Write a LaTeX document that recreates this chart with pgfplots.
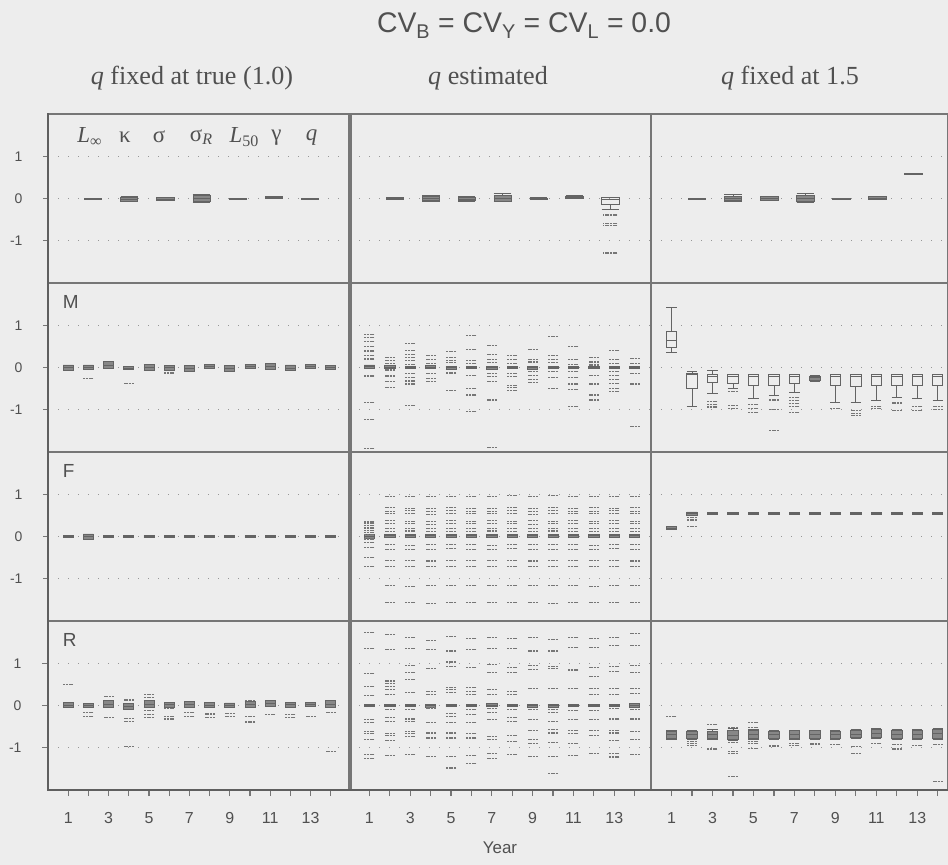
\documentclass[border=0pt]{standalone}
\usepackage{fontspec}
\setmainfont{Liberation Serif}
\newfontfamily\arial{Liberation Sans}
\usepackage{pgfplots}
\pgfplotsset{compat=1.18}
\usepgfplotslibrary{statistics}

\definecolor{paper}{RGB}{237,237,237}
\definecolor{frame}{RGB}{118,118,118}
\definecolor{frameb}{RGB}{95,95,95}
\definecolor{ink}{RGB}{80,80,80}
\definecolor{boxc}{RGB}{100,100,100}
\definecolor{boxfill}{RGB}{135,135,135}
\definecolor{outc}{RGB}{118,118,118}
\definecolor{dotc}{RGB}{150,150,150}

\newcommand\tickfont{\arial\fontsize{16}{18}\selectfont}

\tikzset{plab/.style={font=\arial\fontsize{19}{20}\selectfont, text=ink, anchor=west, inner sep=0pt},
  head/.style={font=\fontsize{26.2}{28}\selectfont, text=ink, anchor=base}}

\pgfplotsset{
  panel/.style={
    scale only axis, height=169bp,
    xmin=0, ymin=-2, ymax=2,
    axis line style={draw=frame, line width=1.2bp},
    ytick={-1,0,1}, yticklabels={},
    xtick=\empty,
    ymajorgrids,
    grid style={draw=dotc, line width=1.3bp, dash pattern=on 1.3bp off 8.7bp},
    ytick style={draw=none},
    tick align=outside,
    boxplot/draw direction=y,
    anchor=south west,
  },
  c1/.style={panel, width=303bp, xmax=15},
  c2/.style={panel, width=302bp, xmax=14.8},
  c3/.style={panel, width=297bp, xmax=14.5},
  leftcol/.style={
    ytick style={draw=frame, line width=1.2bp}, major tick length=5bp,
    ytick pos=left, yticklabels={-1,0,1},
    yticklabel style={font=\arial\fontsize{14}{16}\selectfont, text=ink, xshift=-17bp},
  },
  bottomrow/.style={
    xtick={1,...,14}, xticklabels={1,,3,,5,,7,,9,,11,,13,},
    xtick pos=bottom, xtick style={draw=frame, line width=1.2bp},
    major tick length=6bp,
    xticklabel style={font=\tickfont, text=ink, yshift=-13bp},
  },
  bx/.style={draw=boxc, line width=0.8bp, solid, mark=none,
    boxplot/box extend=0.5, boxplot/whisker extend=0.5},
  wide/.style={boxplot/box extend=0.85, boxplot/whisker extend=0.85},
  dense/.style={fill=boxfill},
  ol/.style={only marks, mark=-, mark size=5bp,
    mark options={draw=outc, line width=1.1bp, dash pattern=on 2bp off 0.7bp}},
}

% one box: [options]{position}{lower whisker}{lower quartile}{median}{upper quartile}{upper whisker}
\newcommand\bx[7][]{\addplot[bx,#1,boxplot prepared={draw position=#2,
  lower whisker=#3, lower quartile=#4, median=#5,
  upper quartile=#6, upper whisker=#7}] coordinates {};}

\begin{document}
\begin{tikzpicture}
\fill[paper] (0,0) rectangle (948bp,865bp);
\useasboundingbox (0,0) rectangle (948bp,865bp);

\node[font=\arial\fontsize{28.5}{30}\selectfont, text=ink, anchor=base] at (524bp,832bp)
  {CV\textsubscript{B} = CV\textsubscript{Y} = CV\textsubscript{L} = 0.0};
\node[head] at (192bp,780bp) {\textit{q} fixed at true (1.0)};
\node[head] at (488bp,780bp) {\textit{q} estimated};
\node[head] at (790bp,780bp) {\textit{q} fixed at 1.5};

%% ---------------- row 1: parameters ----------------
\begin{axis}[c1, leftcol, at={(48bp,582bp)}]
\bx[wide,dense]{2.23}{-0.01}{-0.01}{0}{0.01}{0.01}
\bx[wide,dense]{4.02}{-0.07}{-0.06}{-0.02}{0.03}{0.04}
\bx[wide,dense]{5.81}{-0.05}{-0.04}{-0.01}{0.03}{0.03}
\bx[wide,dense]{7.60}{-0.09}{-0.07}{0}{0.07}{0.10}
\bx[wide,dense]{9.39}{-0.01}{-0.01}{0}{0.01}{0.01}
\bx[wide,dense]{11.18}{0.01}{0.01}{0.03}{0.05}{0.05}
\bx[wide,dense]{12.97}{-0.01}{-0.01}{0}{0.005}{0.005}
\begin{scope}[font=\fontsize{23}{25}\selectfont, text=ink]
\node at (axis cs:2.07,1.45) {\textit{L}\textsubscript{∞}};
\node at (axis cs:3.81,1.45) {κ};
\node at (axis cs:5.50,1.45) {σ};
\node at (axis cs:7.59,1.45) {σ\textsubscript{\textit{R}}};
\node at (axis cs:9.72,1.45) {\textit{L}\textsubscript{50}};
\node at (axis cs:11.31,1.45) {γ};
\node at (axis cs:13.05,1.45) {\textit{q}};
\end{scope}
\end{axis}

\begin{axis}[c2, at={(349bp,582bp)}]
\bx[wide,dense]{2.25}{-0.01}{-0.01}{0}{0.02}{0.02}
\bx[wide,dense]{4.01}{-0.06}{-0.05}{0}{0.05}{0.07}
\bx[wide,dense]{5.77}{-0.06}{-0.05}{-0.02}{0.03}{0.04}
\bx[wide,dense]{7.53}{-0.08}{-0.06}{0}{0.07}{0.11}
\bx[wide,dense]{9.29}{-0.02}{-0.02}{0}{0.01}{0.02}
\bx[wide,dense]{11.05}{0}{0}{0.03}{0.06}{0.07}
\bx[wide]{12.81}{-0.26}{-0.14}{-0.02}{0.02}{0.02}
\addplot[ol, mark size=7bp] coordinates {(12.81,-0.38) (12.81,-0.41) (12.81,-0.60) (12.81,-0.64) (12.81,-1.29)};
\end{axis}

\begin{axis}[c3, at={(651bp,582bp)}]
\bx[wide,dense]{2.25}{-0.01}{-0.01}{0}{0.01}{0.01}
\bx[wide,dense]{4.01}{-0.06}{-0.05}{0}{0.06}{0.09}
\bx[wide,dense]{5.77}{-0.04}{-0.04}{0}{0.04}{0.05}
\bx[wide,dense]{7.53}{-0.09}{-0.07}{0}{0.08}{0.12}
\bx[wide,dense]{9.29}{-0.03}{-0.03}{-0.01}{0.01}{0.01}
\bx[wide,dense]{11.05}{-0.01}{-0.01}{0.01}{0.04}{0.05}
\bx[wide]{12.81}{0.57}{0.57}{0.58}{0.59}{0.59}
\end{axis}

%% ---------------- row 2: M ----------------
\begin{axis}[c1, leftcol, at={(48bp,413bp)}]
\node[plab] at (axis cs:0.73,1.55) {M};
\bx[dense]{1}{-0.06}{-0.06}{0}{0.06}{0.06}
\bx[dense]{2}{-0.05}{-0.05}{0}{0.06}{0.06}
\bx[dense]{3}{-0.02}{-0.02}{0.05}{0.15}{0.15}
\bx[dense]{4}{-0.05}{-0.05}{-0.01}{0.03}{0.03}
\bx[dense]{5}{-0.08}{-0.08}{0}{0.07}{0.07}
\bx[dense]{6}{-0.06}{-0.06}{0}{0.04}{0.04}
\bx[dense]{7}{-0.10}{-0.10}{-0.03}{0.04}{0.04}
\bx[dense]{8}{-0.02}{-0.02}{0.03}{0.08}{0.08}
\bx[dense]{9}{-0.10}{-0.10}{-0.03}{0.04}{0.04}
\bx[dense]{10}{-0.03}{-0.03}{0.02}{0.07}{0.07}
\bx[dense]{11}{-0.05}{-0.05}{0.02}{0.10}{0.10}
\bx[dense]{12}{-0.08}{-0.08}{-0.01}{0.06}{0.06}
\bx[dense]{13}{-0.02}{-0.02}{0.03}{0.07}{0.07}
\bx[dense]{14}{-0.05}{-0.05}{0}{0.04}{0.04}
\addplot[ol] coordinates {(2,-0.26) (4,-0.38) (6,-0.13)};
\end{axis}

\begin{axis}[c2, at={(349bp,413bp)}]
\addplot[ol] coordinates {
(1,0.79) (1,0.71) (1,0.61) (1,0.50) (1,0.39) (1,0.29) (1,0.20) (1,-0.18) (1,-0.22) (1,-0.83) (1,-1.24) (1,-1.91)
(2,0.24) (2,0.17) (2,0.10) (2,-0.06) (2,-0.18) (2,-0.22) (2,-0.34) (2,-0.47)
(3,0.57) (3,0.41) (3,0.31) (3,0.24) (3,0.16) (3,0.08) (3,-0.14) (3,-0.24) (3,-0.32) (3,-0.39) (3,-0.89)
(4,0.29) (4,0.19) (4,0.09) (4,-0.14) (4,-0.26) (4,-0.34)
(5,0.37) (5,0.24) (5,0.17) (5,0.11) (5,-0.13) (5,-0.55)
(6,0.76) (6,0.43) (6,0.17) (6,0.09) (6,-0.18) (6,-0.50) (6,-0.65) (6,-1.05)
(7,0.53) (7,0.31) (7,0.19) (7,0.11) (7,-0.14) (7,-0.22) (7,-0.34) (7,-0.77) (7,-1.89)
(8,0.29) (8,0.19) (8,0.09) (8,-0.14) (8,-0.22) (8,-0.42) (8,-0.47) (8,-0.55)
(9,0.43) (9,0.19) (9,0.13) (9,-0.10) (9,-0.18) (9,-0.28) (9,-0.36)
(10,0.74) (10,0.29) (10,0.19) (10,0.11) (10,-0.10) (10,-0.24) (10,-0.50)
(11,0.50) (11,0.19) (11,0.08) (11,-0.10) (11,-0.24) (11,-0.39) (11,-0.52) (11,-0.93)
(12,0.24) (12,0.13) (12,0.06) (12,-0.18) (12,-0.39) (12,-0.65) (12,-0.77)
(13,0.41) (13,0.19) (13,0.09) (13,-0.10) (13,-0.18) (13,-0.28) (13,-0.38) (13,-0.50) (13,-0.57)
(14,0.21) (14,0.09) (14,-0.14) (14,-0.39) (14,-1.40)
};
\bx[dense]{1}{-0.03}{-0.03}{0.02}{0.06}{0.06}
\bx[dense]{2}{-0.03}{-0.03}{0}{0.04}{0.04}
\bx[dense]{3}{-0.03}{-0.03}{0}{0.03}{0.03}
\bx[dense]{4}{-0.03}{-0.03}{0}{0.04}{0.04}
\bx[dense]{5}{-0.04}{-0.04}{0}{0.03}{0.03}
\bx[dense]{6}{-0.03}{-0.03}{0}{0.03}{0.03}
\bx[dense]{7}{-0.05}{-0.05}{0}{0.03}{0.03}
\bx[dense]{8}{-0.03}{-0.03}{0}{0.03}{0.03}
\bx[dense]{9}{-0.04}{-0.04}{0}{0.03}{0.03}
\bx[dense]{10}{-0.03}{-0.03}{0}{0.03}{0.03}
\bx[dense]{11}{-0.03}{-0.03}{0}{0.03}{0.03}
\bx[dense]{12}{-0.03}{-0.03}{0}{0.03}{0.03}
\bx[dense]{13}{-0.03}{-0.03}{0}{0.03}{0.03}
\bx[dense]{14}{-0.03}{-0.03}{0}{0.03}{0.03}
\end{axis}

\begin{axis}[c3, at={(651bp,413bp)}]
\bx{1}{0.35}{0.47}{0.63}{0.86}{1.42}
\bx{2}{-0.91}{-0.50}{-0.17}{-0.13}{-0.10}
\bx{3}{-0.62}{-0.36}{-0.20}{-0.17}{-0.07}
\bx{4}{-0.49}{-0.38}{-0.20}{-0.16}{-0.16}
\bx{5}{-0.73}{-0.42}{-0.20}{-0.16}{-0.16}
\bx{6}{-0.65}{-0.42}{-0.20}{-0.16}{-0.16}
\bx{7}{-0.60}{-0.38}{-0.20}{-0.16}{-0.16}
\bx[dense]{8}{-0.33}{-0.30}{-0.24}{-0.20}{-0.18}
\bx{9}{-0.82}{-0.42}{-0.20}{-0.16}{-0.16}
\bx{10}{-0.82}{-0.45}{-0.20}{-0.16}{-0.16}
\bx{11}{-0.78}{-0.42}{-0.20}{-0.16}{-0.16}
\bx{12}{-0.70}{-0.42}{-0.20}{-0.16}{-0.16}
\bx{13}{-0.72}{-0.42}{-0.20}{-0.16}{-0.16}
\bx{14}{-0.78}{-0.42}{-0.20}{-0.16}{-0.16}
\addplot[ol] coordinates {
(3,-0.80) (3,-0.88) (3,-0.92) (3,-0.95)
(4,-0.56) (4,-0.90) (4,-0.98)
(5,-0.88) (5,-0.98) (5,-1.07)
(6,-0.77) (6,-1.00) (6,-1.50)
(7,-0.70) (7,-0.78) (7,-0.85) (7,-0.92) (7,-1.07)
(9,-0.98)
(10,-1.02) (10,-1.08) (10,-1.13)
(11,-0.93) (11,-0.98)
(12,-0.84) (12,-1.02)
(13,-0.93) (13,-1.02)
(14,-0.93) (14,-1.00)
};
\end{axis}

%% ---------------- row 3: F ----------------
\begin{axis}[c1, leftcol, at={(48bp,244bp)}]
\node[plab] at (axis cs:0.73,1.56) {F};
\bx[dense]{1}{-0.015}{-0.015}{0}{0.015}{0.015}
\bx[dense]{2}{-0.08}{-0.08}{0}{0.06}{0.06}
\bx[dense]{3}{-0.015}{-0.015}{0}{0.015}{0.015}
\bx[dense]{4}{-0.015}{-0.015}{0}{0.015}{0.015}
\bx[dense]{5}{-0.015}{-0.015}{0}{0.015}{0.015}
\bx[dense]{6}{-0.015}{-0.015}{0}{0.015}{0.015}
\bx[dense]{7}{-0.015}{-0.015}{0}{0.015}{0.015}
\bx[dense]{8}{-0.015}{-0.015}{0}{0.015}{0.015}
\bx[dense]{9}{-0.015}{-0.015}{0}{0.015}{0.015}
\bx[dense]{10}{-0.015}{-0.015}{0}{0.015}{0.015}
\bx[dense]{11}{-0.015}{-0.015}{0}{0.015}{0.015}
\bx[dense]{12}{-0.015}{-0.015}{0}{0.015}{0.015}
\bx[dense]{13}{-0.015}{-0.015}{0}{0.015}{0.015}
\bx[dense]{14}{-0.015}{-0.015}{0}{0.015}{0.015}
\end{axis}

\begin{axis}[c2, at={(349bp,244bp)}]
\addplot[ol] coordinates {
(1,0.36) (1,0.32) (1,0.26) (1,0.20) (1,0.14) (1,0.10) (1,0.05) (1,-0.05) (1,-0.08) (1,-0.14) (1,-0.25) (1,-0.49) (1,-0.71)
(2,0.95) (2,0.68) (2,0.60) (2,0.54) (2,0.37) (2,0.30) (2,0.19) (2,0.12) (2,-0.20) (2,-0.30) (2,-0.57) (2,-0.71) (2,-1.17) (2,-1.57)
(3,0.94) (3,0.66) (3,0.61) (3,0.55) (3,0.36) (3,0.31) (3,0.18) (3,0.13) (3,-0.21) (3,-0.31) (3,-0.56) (3,-0.72) (3,-1.18) (3,-1.56)
(4,0.95) (4,0.67) (4,0.59) (4,0.53) (4,0.36) (4,0.29) (4,0.19) (4,0.12) (4,-0.20) (4,-0.30) (4,-0.58) (4,-0.71) (4,-1.16) (4,-1.58)
(5,0.94) (5,0.69) (5,0.61) (5,0.54) (5,0.37) (5,0.30) (5,0.18) (5,0.11) (5,-0.19) (5,-0.29) (5,-0.57) (5,-0.70) (5,-1.17) (5,-1.57)
(6,0.95) (6,0.67) (6,0.60) (6,0.55) (6,0.36) (6,0.31) (6,0.19) (6,0.12) (6,-0.20) (6,-0.31) (6,-0.56) (6,-0.71) (6,-1.16) (6,-1.56)
(7,0.94) (7,0.66) (7,0.60) (7,0.54) (7,0.37) (7,0.30) (7,0.18) (7,0.13) (7,-0.21) (7,-0.30) (7,-0.57) (7,-0.72) (7,-1.17) (7,-1.57)
(8,0.96) (8,0.68) (8,0.61) (8,0.54) (8,0.36) (8,0.30) (8,0.19) (8,0.12) (8,-0.20) (8,-0.29) (8,-0.57) (8,-0.71) (8,-1.16) (8,-1.56)
(9,0.95) (9,0.67) (9,0.60) (9,0.53) (9,0.37) (9,0.29) (9,0.18) (9,0.12) (9,-0.20) (9,-0.31) (9,-0.58) (9,-0.70) (9,-1.17) (9,-1.57)
(10,0.96) (10,0.68) (10,0.61) (10,0.55) (10,0.36) (10,0.30) (10,0.19) (10,0.13) (10,-0.19) (10,-0.30) (10,-0.57) (10,-0.71) (10,-1.16) (10,-1.58)
(11,0.95) (11,0.67) (11,0.59) (11,0.54) (11,0.37) (11,0.31) (11,0.18) (11,0.12) (11,-0.20) (11,-0.30) (11,-0.56) (11,-0.72) (11,-1.17) (11,-1.57)
(12,0.94) (12,0.69) (12,0.60) (12,0.54) (12,0.36) (12,0.30) (12,0.19) (12,0.11) (12,-0.21) (12,-0.31) (12,-0.57) (12,-0.71) (12,-1.18) (12,-1.56)
(13,0.95) (13,0.67) (13,0.61) (13,0.55) (13,0.37) (13,0.30) (13,0.18) (13,0.12) (13,-0.20) (13,-0.29) (13,-0.57) (13,-0.70) (13,-1.17) (13,-1.57)
(14,0.95) (14,0.68) (14,0.60) (14,0.54) (14,0.36) (14,0.31) (14,0.19) (14,0.12) (14,-0.20) (14,-0.30) (14,-0.58) (14,-0.71) (14,-1.16) (14,-1.57)
};
\bx[dense]{1}{-0.05}{-0.05}{0}{0.05}{0.05}
\bx[dense]{2}{-0.02}{-0.02}{0.02}{0.04}{0.04}
\bx[dense]{3}{-0.02}{-0.02}{0.02}{0.04}{0.04}
\bx[dense]{4}{-0.02}{-0.02}{0.02}{0.04}{0.04}
\bx[dense]{5}{-0.02}{-0.02}{0.02}{0.04}{0.04}
\bx[dense]{6}{-0.02}{-0.02}{0.02}{0.04}{0.04}
\bx[dense]{7}{-0.02}{-0.02}{0.02}{0.04}{0.04}
\bx[dense]{8}{-0.02}{-0.02}{0.02}{0.04}{0.04}
\bx[dense]{9}{-0.02}{-0.02}{0.02}{0.04}{0.04}
\bx[dense]{10}{-0.02}{-0.02}{0.02}{0.04}{0.04}
\bx[dense]{11}{-0.02}{-0.02}{0.02}{0.04}{0.04}
\bx[dense]{12}{-0.02}{-0.02}{0.02}{0.04}{0.04}
\bx[dense]{13}{-0.02}{-0.02}{0.02}{0.04}{0.04}
\bx[dense]{14}{-0.02}{-0.02}{0.02}{0.04}{0.04}
\end{axis}

\begin{axis}[c3, at={(651bp,244bp)}]
\bx[dense]{1}{0.17}{0.17}{0.20}{0.24}{0.24}
\bx[dense]{2}{0.51}{0.51}{0.55}{0.58}{0.58}
\bx[dense]{3}{0.53}{0.53}{0.55}{0.57}{0.57}
\bx[dense]{4}{0.53}{0.53}{0.55}{0.57}{0.57}
\bx[dense]{5}{0.53}{0.53}{0.55}{0.57}{0.57}
\bx[dense]{6}{0.53}{0.53}{0.55}{0.57}{0.57}
\bx[dense]{7}{0.53}{0.53}{0.55}{0.57}{0.57}
\bx[dense]{8}{0.53}{0.53}{0.55}{0.57}{0.57}
\bx[dense]{9}{0.53}{0.53}{0.55}{0.57}{0.57}
\bx[dense]{10}{0.53}{0.53}{0.55}{0.57}{0.57}
\bx[dense]{11}{0.53}{0.53}{0.55}{0.57}{0.57}
\bx[dense]{12}{0.53}{0.53}{0.55}{0.57}{0.57}
\bx[dense]{13}{0.53}{0.53}{0.55}{0.57}{0.57}
\bx[dense]{14}{0.53}{0.53}{0.55}{0.57}{0.57}
\addplot[ol] coordinates {(2,0.46) (2,0.39) (2,0.23)};
\end{axis}

%% ---------------- row 4: R ----------------
\begin{axis}[c1, leftcol, bottomrow, at={(48bp,75bp)}]
\node[plab] at (axis cs:0.73,1.54) {R};
\bx[dense]{1}{-0.05}{-0.05}{0}{0.07}{0.07}
\bx[dense]{2}{-0.04}{-0.04}{0}{0.05}{0.05}
\bx[dense]{3}{-0.04}{-0.04}{0.03}{0.13}{0.13}
\bx[dense]{4}{-0.10}{-0.10}{-0.02}{0.05}{0.05}
\bx[dense]{5}{-0.04}{-0.04}{0.03}{0.12}{0.12}
\bx[dense]{6}{-0.04}{-0.04}{0.02}{0.08}{0.08}
\bx[dense]{7}{-0.04}{-0.04}{0.02}{0.09}{0.09}
\bx[dense]{8}{-0.05}{-0.05}{0.01}{0.08}{0.08}
\bx[dense]{9}{-0.04}{-0.04}{0.01}{0.06}{0.06}
\bx[dense]{10}{-0.04}{-0.04}{0.02}{0.09}{0.09}
\bx[dense]{11}{-0.02}{-0.02}{0.04}{0.12}{0.12}
\bx[dense]{12}{-0.04}{-0.04}{0.02}{0.08}{0.08}
\bx[dense]{13}{-0.02}{-0.02}{0.03}{0.08}{0.08}
\bx[dense]{14}{-0.05}{-0.05}{0.03}{0.12}{0.12}
\addplot[ol] coordinates {
(1,0.49) (2,-0.16) (2,-0.27) (3,0.21) (3,-0.29)
(4,0.13) (4,-0.31) (4,-0.37) (4,-0.96)
(5,0.27) (5,0.18) (5,-0.12) (5,-0.21) (5,-0.29)
(6,-0.08) (6,-0.26) (6,-0.32) (7,-0.16) (7,-0.26)
(8,-0.20) (8,-0.29) (9,-0.18) (9,-0.26)
(10,0.12) (10,-0.26) (10,-0.39) (11,-0.21)
(12,-0.21) (12,-0.29) (13,-0.26) (14,-0.17) (14,-1.08)
};
\end{axis}

\begin{axis}[c2, bottomrow, at={(349bp,75bp)}]
\addplot[ol] coordinates {
(1,1.73) (1,1.35) (1,0.76) (1,0.44) (1,0.24) (1,-0.33) (1,-0.41) (1,-0.61) (1,-0.67) (1,-0.81) (1,-1.17) (1,-1.25)
(2,1.69) (2,1.32) (2,0.58) (2,0.52) (2,0.44) (2,0.38) (2,0.26) (2,-0.10) (2,-0.29) (2,-0.37) (2,-0.67) (2,-0.71) (2,-0.83) (2,-1.18)
(3,1.61) (3,1.35) (3,0.94) (3,0.79) (3,0.62) (3,0.30) (3,-0.10) (3,-0.32) (3,-0.37) (3,-0.61) (3,-0.67) (3,-0.73) (3,-1.17)
(4,1.53) (4,1.33) (4,0.87) (4,0.34) (4,0.26) (4,-0.06) (4,-0.40) (4,-0.65) (4,-0.77) (4,-1.21)
(5,1.63) (5,1.29) (5,1.03) (5,0.92) (5,0.42) (5,0.37) (5,0.30) (5,-0.19) (5,-0.25) (5,-0.41) (5,-0.65) (5,-0.77) (5,-1.21) (5,-1.48)
(6,1.59) (6,1.32) (6,0.90) (6,0.42) (6,0.34) (6,0.26) (6,-0.10) (6,-0.21) (6,-0.41) (6,-0.67) (6,-0.77) (6,-1.18) (6,-1.37)
(7,1.61) (7,1.35) (7,0.98) (7,0.78) (7,0.38) (7,0.26) (7,-0.08) (7,-0.16) (7,-0.33) (7,-0.73) (7,-0.81) (7,-1.14) (7,-1.25)
(8,1.59) (8,1.35) (8,0.90) (8,0.78) (8,0.34) (8,0.26) (8,-0.10) (8,-0.29) (8,-0.37) (8,-0.71) (8,-0.85) (8,-1.17)
(9,1.61) (9,1.29) (9,0.94) (9,0.86) (9,0.40) (9,-0.10) (9,-0.33) (9,-0.59) (9,-0.81) (9,-0.89) (9,-1.21)
(10,1.56) (10,1.29) (10,0.92) (10,0.87) (10,0.40) (10,-0.10) (10,-0.16) (10,-0.37) (10,-0.57) (10,-0.65) (10,-0.87) (10,-1.21) (10,-1.62)
(11,1.61) (11,1.37) (11,0.86) (11,0.82) (11,0.40) (11,-0.11) (11,-0.33) (11,-0.59) (11,-0.67) (11,-0.90) (11,-1.18)
(12,1.59) (12,1.37) (12,0.90) (12,0.68) (12,0.40) (12,0.26) (12,-0.11) (12,-0.33) (12,-0.59) (12,-0.71) (12,-1.14)
(13,1.60) (13,1.43) (13,0.92) (13,0.80) (13,0.40) (13,0.26) (13,-0.08) (13,-0.32) (13,-0.59) (13,-0.65) (13,-0.83) (13,-1.14) (13,-1.22)
(14,1.71) (14,1.41) (14,0.94) (14,0.78) (14,0.40) (14,0.29) (14,-0.10) (14,-0.32) (14,-0.61) (14,-0.81) (14,-1.17)
};
\bx[dense]{1}{-0.03}{-0.03}{0}{0.03}{0.03}
\bx[dense]{2}{-0.03}{-0.03}{0}{0.03}{0.03}
\bx[dense]{3}{-0.03}{-0.03}{0}{0.03}{0.03}
\bx[dense]{4}{-0.05}{-0.05}{0}{0.03}{0.03}
\bx[dense]{5}{-0.03}{-0.03}{0}{0.03}{0.03}
\bx[dense]{6}{-0.03}{-0.03}{0}{0.03}{0.03}
\bx[dense]{7}{-0.03}{-0.03}{0}{0.04}{0.04}
\bx[dense]{8}{-0.03}{-0.03}{0}{0.03}{0.03}
\bx[dense]{9}{-0.04}{-0.04}{0}{0.03}{0.03}
\bx[dense]{10}{-0.04}{-0.04}{0}{0.03}{0.03}
\bx[dense]{11}{-0.03}{-0.03}{0}{0.03}{0.03}
\bx[dense]{12}{-0.03}{-0.03}{0}{0.03}{0.03}
\bx[dense]{13}{-0.03}{-0.03}{0}{0.03}{0.03}
\bx[dense]{14}{-0.04}{-0.04}{0}{0.04}{0.04}
\end{axis}

\begin{axis}[c3, bottomrow, at={(651bp,75bp)}]
\bx[dense]{1}{-0.80}{-0.77}{-0.69}{-0.62}{-0.60}
\bx[dense]{2}{-0.80}{-0.77}{-0.69}{-0.61}{-0.58}
\bx[dense]{3}{-0.80}{-0.77}{-0.69}{-0.61}{-0.57}
\bx[dense]{4}{-0.82}{-0.80}{-0.70}{-0.60}{-0.55}
\bx[dense]{5}{-0.80}{-0.77}{-0.69}{-0.60}{-0.57}
\bx[dense]{6}{-0.80}{-0.77}{-0.69}{-0.61}{-0.58}
\bx[dense]{7}{-0.80}{-0.77}{-0.69}{-0.60}{-0.58}
\bx[dense]{8}{-0.80}{-0.77}{-0.69}{-0.60}{-0.58}
\bx[dense]{9}{-0.80}{-0.77}{-0.69}{-0.61}{-0.58}
\bx[dense]{10}{-0.79}{-0.75}{-0.68}{-0.60}{-0.57}
\bx[dense]{11}{-0.79}{-0.75}{-0.67}{-0.56}{-0.54}
\bx[dense]{12}{-0.80}{-0.77}{-0.68}{-0.58}{-0.56}
\bx[dense]{13}{-0.80}{-0.77}{-0.68}{-0.58}{-0.56}
\bx[dense]{14}{-0.80}{-0.77}{-0.67}{-0.56}{-0.54}
\addplot[ol] coordinates {
(1,-0.26)
(2,-0.85) (2,-0.90) (2,-0.95)
(3,-0.45) (3,-1.03)
(4,-0.53) (4,-0.87) (4,-1.09) (4,-1.13) (4,-1.68)
(5,-0.41) (5,-0.53) (5,-0.85) (5,-0.89) (5,-1.01)
(6,-0.95) (6,-0.98)
(7,-0.89) (7,-0.95)
(8,-0.89) (8,-0.93)
(9,-0.93)
(10,-0.97) (10,-1.13)
(11,-0.90)
(12,-0.93) (12,-1.03)
(13,-0.95)
(14,-0.93) (14,-1.80)
};
\end{axis}

% heavier outer axis lines
\draw[frameb, line width=2.2bp] (47bp,75bp) -- (948bp,75bp);
\draw[frameb, line width=1.8bp] (48bp,75bp) -- (48bp,752bp);

\node[font=\arial\fontsize{17}{19}\selectfont, text=ink] at (500bp,17bp) {Year};
\end{tikzpicture}
\end{document}
